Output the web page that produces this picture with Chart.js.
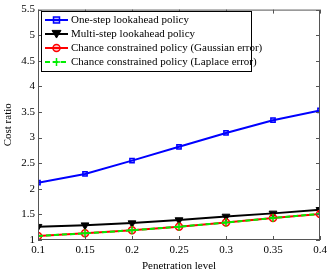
<!DOCTYPE html>
<html><head><meta charset="utf-8">
<script src="https://cdn.jsdelivr.net/npm/chart.js@4/dist/chart.umd.min.js"></script>
<style>html,body{margin:0;padding:0;background:#fff}#wrap{width:333px;height:273px}</style>
</head><body><div id="wrap"><canvas id="c" width="333" height="273"></canvas></div>
<script>
const penetration = [0.1, 0.15, 0.2, 0.25, 0.3, 0.35, 0.4];
const oneStep = [2.12, 2.29, 2.55, 2.82, 3.09, 3.34, 3.53];
const multiStep = [1.26, 1.29, 1.33, 1.39, 1.46, 1.52, 1.59];
const chanceGauss = [1.08, 1.13, 1.19, 1.26, 1.34, 1.43, 1.51];
const chanceLaplace = [1.08, 1.13, 1.19, 1.26, 1.34, 1.43, 1.51];
const seriesNames = ['One-step lookahead policy','Multi-step lookahead policy','Chance constrained policy (Gaussian error)','Chance constrained policy (Laplace error)'];
const yTicks = [1,1.5,2,2.5,3,3.5,4,4.5,5,5.5];
const xTicks = [0.1,0.15,0.2,0.25,0.3,0.35,0.4];
const FONT = 'Liberation Serif';

function pts(ys){return penetration.map((x,i)=>({x:x,y:ys[i]}));}

const frame = {
  id:'frame',
  afterDatasetsDraw(chart){
    const {ctx, chartArea:a, scales} = chart;
    ctx.save();
    ctx.strokeStyle='#555'; ctx.lineWidth=1;
    ctx.strokeRect(a.left+0.5,a.top+0.5,a.right-a.left-1,a.bottom-a.top-1);
    const L=4;
    ctx.beginPath();
    yTicks.forEach(v=>{const y=Math.round(scales.y.getPixelForValue(v))+0.5;
      ctx.moveTo(a.left,y);ctx.lineTo(a.left+L,y);ctx.moveTo(a.right,y);ctx.lineTo(a.right-L,y);});
    xTicks.forEach(v=>{const x=Math.round(scales.x.getPixelForValue(v))+0.5;
      ctx.moveTo(x,a.bottom);ctx.lineTo(x,a.bottom-L);ctx.moveTo(x,a.top);ctx.lineTo(x,a.top+L);});
    ctx.stroke();
    // legend
    const lx=41, ly=11, lw=210, lh=60;
    ctx.fillStyle='#fff'; ctx.fillRect(lx,ly,lw,lh);
    ctx.strokeStyle='#000'; ctx.lineWidth=1; ctx.strokeRect(lx+0.5,ly+0.5,lw,lh);
    ctx.font='11px "'+FONT+'"'; ctx.textBaseline='middle'; ctx.textAlign='left';
    chart.data.datasets.forEach((ds,i)=>{
      const y=ly+9+i*14;
      ctx.save();
      ctx.strokeStyle=ds.borderColor; ctx.lineWidth=2; ctx.setLineDash(ds.borderDash||[]);
      ctx.beginPath(); ctx.moveTo(lx+4,y); ctx.lineTo(lx+27,y); ctx.stroke();
      ctx.restore();
      drawMarker(ctx, ds, lx+15.5, y);
      ctx.fillStyle='#000'; ctx.fillText(seriesNames[i], lx+30, y+0.5);
    });
    ctx.restore();
  }
};
function drawMarker(ctx, ds, x, y){
  ctx.save();
  ctx.strokeStyle=ds.pointBorderColor; ctx.fillStyle=ds.pointBackgroundColor; ctx.lineWidth=ds.pointBorderWidth;
  const r=ds.pointRadius;
  ctx.beginPath();
  if(ds.pointStyle==='rect'){ctx.rect(x-r,y-r,2*r,2*r);ctx.fill();ctx.stroke();}
  else if(ds.pointStyle==='circle'){ctx.arc(x,y,r,0,Math.PI*2);ctx.fill();ctx.stroke();}
  else if(ds.pointStyle==='triangle'){ctx.moveTo(x-r,y-r*0.8);ctx.lineTo(x+r,y-r*0.8);ctx.lineTo(x,y+r*0.9);ctx.closePath();ctx.fill();ctx.stroke();}
  else if(ds.pointStyle==='cross'){ctx.moveTo(x-r,y);ctx.lineTo(x+r,y);ctx.moveTo(x,y-r);ctx.lineTo(x,y+r);ctx.stroke();}
  ctx.restore();
}

new Chart(document.getElementById('c'),{
  type:'line',
  data:{datasets:[
    {order:4,data:pts(oneStep),borderColor:'#0000ff',borderWidth:2,pointStyle:'rect',pointRadius:3,pointBorderColor:'#0000ff',pointBackgroundColor:'rgba(0,0,255,0.25)',pointBorderWidth:1.5},
    {order:3,data:pts(multiStep),borderColor:'#000000',borderWidth:2,pointStyle:'triangle',pointRotation:180,pointRadius:4.5,pointBorderColor:'#000',pointBackgroundColor:'#000',pointBorderWidth:1},
    {order:2,data:pts(chanceGauss),borderColor:'#ff0000',borderWidth:2,pointStyle:'circle',pointRadius:3.5,pointBorderColor:'#ff0000',pointBackgroundColor:'rgba(255,0,0,0.2)',pointBorderWidth:1.5},
    {order:1,data:pts(chanceLaplace),borderColor:'#00ee00',borderWidth:2,borderDash:[5,3],pointStyle:'cross',pointRadius:4,pointBorderColor:'#00ee00',pointBackgroundColor:'#00ee00',pointBorderWidth:1.5}
  ]},
  options:{
    responsive:false,animation:false,
    layout:{padding:{left:2,right:13,top:7,bottom:0}},
    plugins:{legend:{display:false},tooltip:{enabled:false}},
    elements:{line:{tension:0}},
    scales:{
      x:{type:'linear',min:0.1,max:0.4,
        afterBuildTicks(s){s.ticks=xTicks.map(v=>({value:v}));},
        afterFit(s){s.height=33;},
        grid:{display:false,drawTicks:false},border:{display:false},
        ticks:{color:'#000',font:{family:FONT,size:11},padding:4,maxRotation:0,callback:v=>String(v)},
        title:{display:true,text:'Penetration level',color:'#000',font:{family:FONT,size:11},padding:{top:1,bottom:0}}},
      y:{type:'linear',min:1,max:5.5,
        afterBuildTicks(s){s.ticks=yTicks.map(v=>({value:v}));},
        afterFit(s){s.width=36;},
        grid:{display:false,drawTicks:false},border:{display:false},
        ticks:{color:'#000',font:{family:FONT,size:11},padding:3,callback:v=>String(v)},
        title:{display:true,text:'Cost ratio',color:'#000',font:{family:FONT,size:11},padding:{top:0,bottom:3}}}
    }
  },
  plugins:[frame]
});
</script></body></html>
